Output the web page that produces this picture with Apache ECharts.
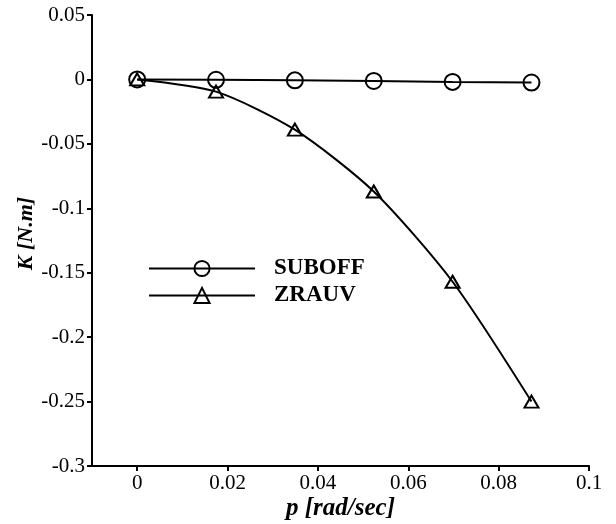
<!DOCTYPE html>
<html><head><meta charset="utf-8">
<script src="https://cdn.jsdelivr.net/npm/echarts@6/dist/echarts.min.js"></script>
<style>html,body{margin:0;padding:0;background:#fff}#c{width:616px;height:524px}</style>
</head><body><div id="c"></div>
<script>
const pValues = [0, 0.01745, 0.0349, 0.05236, 0.06981, 0.08727];
const suboff = [0, -0.0003, -0.0007, -0.0012, -0.0019, -0.0024];
const zrauv = [0, -0.0095, -0.039, -0.087, -0.157, -0.250];
const xTicks = [0, 0.02, 0.04, 0.06, 0.08, 0.1];
const yTicks = [0.05, 0, -0.05, -0.1, -0.15, -0.2, -0.25, -0.3];

const font = 'Liberation Serif, Times New Roman, serif';
const chart = echarts.init(document.getElementById('c'));
const mk = (arr) => pValues.map((p, i) => [p, arr[i]]);
chart.setOption({
  animation: false,
  grid: {left: 92, top: 15, right: 27, bottom: 58, containLabel: false, outerBoundsMode: 'none'},
  legend: {
    orient: 'vertical', left: 143, top: 252, itemWidth: 106, itemHeight: 19, itemGap: 4,
    textStyle: {fontFamily: font, fontWeight: 'bold', fontSize: 23, color: '#000', padding: [0,0,0,14]},
    data: ['SUBOFF', 'ZRAUV']
  },
  xAxis: {
    type: 'value', min: -0.01, max: 0.1,
    name: 'p [rad/sec]', nameLocation: 'middle', nameGap: 30, nameMoveOverlap: false,
    nameTextStyle: {fontFamily: font, fontWeight: 'bold', fontStyle: 'italic', fontSize: 25, color: '#000'},
    axisLine: {onZero: false, lineStyle: {color: '#000', width: 2}},
    axisTick: {show: true, customValues: xTicks, length: 5, lineStyle: {color: '#000', width: 2}},
    axisLabel: {customValues: xTicks, fontFamily: font, fontSize: 21, color: '#000', margin: 7,
      formatter: v => String(Math.round(v * 100) / 100)},
    splitLine: {show: false}
  },
  yAxis: {
    type: 'value', min: -0.3, max: 0.05, interval: 0.05,
    name: 'K [N.m]', nameLocation: 'middle', nameGap: 55, nameMoveOverlap: false,
    nameTextStyle: {fontFamily: font, fontWeight: 'bold', fontStyle: 'italic', fontSize: 22, color: '#000', padding: [0,0,0,14]},
    axisLine: {show: true, onZero: false, lineStyle: {color: '#000', width: 2}},
    axisTick: {show: true, customValues: yTicks, length: 5, lineStyle: {color: '#000', width: 2}},
    axisLabel: {customValues: yTicks, fontFamily: font, fontSize: 21, color: '#000', margin: 7,
      formatter: v => String(Math.round(v * 100) / 100)},
    splitLine: {show: false}
  },
  series: [
    {name: 'SUBOFF', type: 'line', data: mk(suboff), symbol: 'circle', symbolSize: 16,
      lineStyle: {color: '#000', width: 2},
      itemStyle: {color: 'rgba(255,255,255,0)', borderColor: '#000', borderWidth: 2}},
    {name: 'ZRAUV', type: 'line', data: mk(zrauv), smooth: 0.25, symbol: 'triangle', symbolSize: [14, 12],
      lineStyle: {color: '#000', width: 2},
      itemStyle: {color: 'rgba(255,255,255,0)', borderColor: '#000', borderWidth: 2}}
  ]
});
</script></body></html>
